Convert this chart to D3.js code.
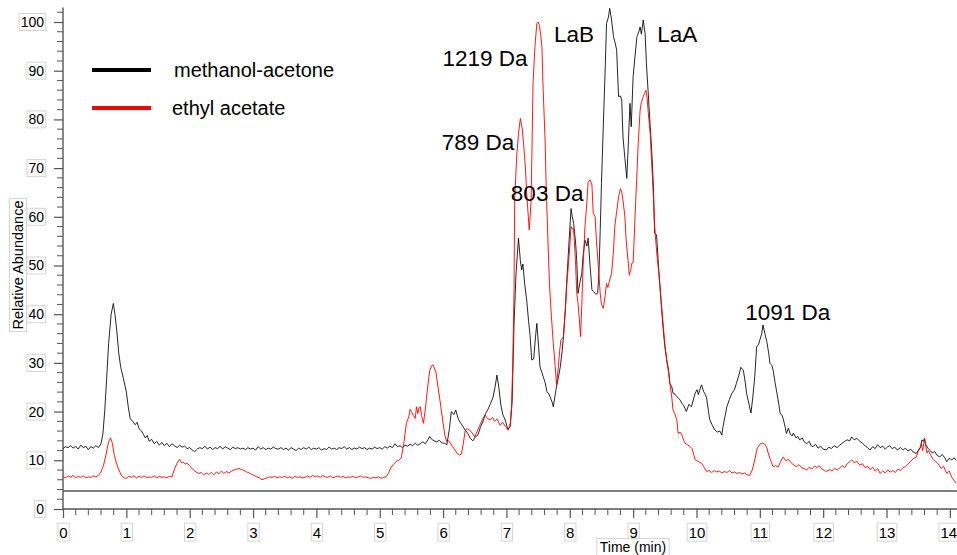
<!DOCTYPE html>
<html>
<head>
<meta charset="utf-8">
<script src="https://cdn.jsdelivr.net/npm/d3@7"></script>
<style>
  body { margin: 0; background: #fff; }
  svg { display: block; font-family: "Liberation Sans", Arial, sans-serif; }
</style>
</head>
<body>
<svg id="chart" width="957" height="555"></svg>
<script>
// ---- data (time in min, relative abundance in %) ----
const seriesNames = ["methanol-acetone", "ethyl acetate"];
const seriesColors = ["#000000", "#ff0000"];

const methanolAcetone = [[0,12.4],[0.04,12.8],[0.08,12.6],[0.12,13.0],[0.16,12.5],[0.2,12.9],[0.24,12.3],[0.28,13.1],[0.32,12.6],[0.36,12.9],[0.4,12.2],[0.44,12.8],[0.48,12.5],[0.52,13.0],[0.56,12.6],[0.6,13.4],[0.63,15.5],[0.66,20.3],[0.69,27],[0.72,34],[0.76,40],[0.795,42.2],[0.82,40],[0.85,36.5],[0.88,32],[0.91,29.2],[0.95,27],[1.0,24],[1.03,21],[1.06,18.6],[1.1,18.0],[1.14,17.3],[1.17,17.8],[1.2,16.5],[1.24,16.0],[1.27,15.3],[1.3,14.6],[1.33,15.1],[1.36,13.9],[1.4,14.3],[1.44,13.4],[1.48,13.9],[1.52,13.1],[1.56,13.7],[1.6,13.0],[1.64,13.5],[1.68,12.8],[1.72,13.4],[1.76,13.0],[1.8,12.6],[1.84,13.1],[1.88,12.7],[1.92,12.9],[1.96,12.4],[2.0,12.6],[2.04,12.1],[2.08,11.8],[2.12,12.3],[2.16,12.6],[2.2,12.4],[2.24,12.9],[2.28,12.3],[2.32,12.7],[2.36,12.2],[2.4,12.6],[2.44,12.4],[2.48,12.9],[2.52,12.3],[2.56,12.8],[2.6,12.5],[2.64,12.2],[2.68,12.7],[2.72,12.4],[2.76,12.6],[2.8,12.3],[2.84,12.5],[2.88,12.2],[2.92,12.6],[2.96,12.3],[3.0,12.5],[3.04,12.1],[3.08,12.8],[3.12,12.3],[3.16,12.6],[3.2,12.2],[3.24,12.5],[3.28,12.3],[3.32,12.7],[3.36,12.4],[3.4,12.3],[3.44,12.6],[3.48,12.2],[3.52,12.5],[3.56,12.1],[3.6,12.6],[3.64,12.3],[3.68,12.0],[3.72,12.5],[3.76,12.2],[3.8,12.6],[3.84,12.3],[3.88,12.7],[3.92,12.2],[3.96,12.5],[4.0,12.3],[4.04,12.6],[4.08,12.1],[4.12,12.4],[4.16,12.2],[4.2,12.7],[4.24,12.3],[4.28,12.5],[4.32,12.2],[4.36,12.6],[4.4,12.4],[4.44,12.8],[4.48,12.3],[4.52,12.6],[4.56,12.2],[4.6,12.5],[4.64,12.3],[4.68,12.7],[4.72,12.4],[4.76,12.6],[4.8,12.2],[4.84,12.5],[4.88,12.3],[4.92,12.7],[4.96,12.4],[5.0,12.6],[5.04,12.3],[5.08,12.8],[5.12,12.5],[5.16,12.9],[5.2,12.6],[5.24,13.4],[5.28,12.8],[5.32,13.0],[5.36,12.6],[5.4,13.1],[5.44,12.9],[5.48,13.3],[5.52,13.0],[5.56,13.5],[5.6,13.1],[5.64,13.4],[5.68,13.8],[5.72,13.4],[5.76,14.2],[5.79,14.9],[5.82,14.3],[5.86,14.0],[5.9,13.8],[5.94,14.1],[5.98,13.6],[6.02,13.5],[6.06,13.2],[6.1,16.5],[6.13,20.0],[6.17,19.4],[6.2,20.3],[6.24,18.5],[6.27,17.8],[6.31,17.0],[6.35,16.2],[6.39,15.5],[6.43,14.5],[6.47,14.0],[6.51,14.8],[6.55,15.2],[6.59,16.8],[6.63,18.0],[6.67,19.6],[6.71,20.5],[6.75,21.7],[6.79,23.0],[6.82,25.0],[6.85,27.5],[6.88,25.0],[6.91,21.5],[6.94,19.5],[6.98,18.3],[7.02,16.4],[7.06,16.9],[7.09,22],[7.12,38],[7.15,48],[7.19,55.6],[7.22,51],[7.24,49.1],[7.26,50.3],[7.29,46],[7.32,42.9],[7.35,38.5],[7.37,36.1],[7.4,30.6],[7.43,30.8],[7.46,35.5],[7.48,38.1],[7.51,33],[7.53,29.2],[7.56,28],[7.58,27.2],[7.61,26],[7.64,24.1],[7.67,23.6],[7.69,23],[7.72,22],[7.74,21],[7.77,23.5],[7.79,25.1],[7.82,27],[7.85,29.2],[7.88,32.5],[7.9,35.4],[7.93,41],[7.95,46.3],[7.98,53],[8.02,61.7],[8.04,60],[8.06,58.7],[8.09,55],[8.11,51.1],[8.13,44.3],[8.16,46.5],[8.19,48.4],[8.21,52],[8.24,55.2],[8.27,54],[8.29,55.6],[8.32,50],[8.35,45],[8.38,44.6],[8.41,44.1],[8.44,44.3],[8.46,48.4],[8.48,57],[8.5,66.8],[8.53,79],[8.56,90.8],[8.58,99.7],[8.61,101],[8.63,102.8],[8.66,100.4],[8.69,97],[8.72,95.5],[8.74,94.2],[8.77,84.7],[8.8,84.8],[8.82,84],[8.84,76.4],[8.87,72],[8.9,67.9],[8.92,73.7],[8.95,83.3],[8.97,78.5],[9.0,88.8],[9.03,93],[9.06,97],[9.09,98],[9.11,99],[9.13,97.5],[9.16,100.4],[9.19,97.5],[9.21,91.5],[9.24,85],[9.27,78.5],[9.3,72],[9.32,66.2],[9.34,56.6],[9.37,56.3],[9.4,50],[9.42,46.3],[9.45,41],[9.48,36.1],[9.5,33.5],[9.53,30.6],[9.56,28.5],[9.58,25.8],[9.61,25.1],[9.63,23.8],[9.66,23.6],[9.69,23.1],[9.72,22.7],[9.74,22.4],[9.77,21.7],[9.8,21.2],[9.84,20.0],[9.88,21.5],[9.92,21.0],[9.95,22.4],[9.98,23.8],[10.01,24.5],[10.03,23.5],[10.06,24.8],[10.08,25.5],[10.11,24.2],[10.14,23.5],[10.16,22.8],[10.19,20],[10.21,18.3],[10.25,17.2],[10.29,16.2],[10.33,15.8],[10.37,16.0],[10.4,15.2],[10.42,17.0],[10.45,19],[10.48,21],[10.52,22.5],[10.56,23.8],[10.6,24.5],[10.63,25.8],[10.67,27.5],[10.7,29.1],[10.74,28.5],[10.77,26],[10.79,23.8],[10.83,21.5],[10.86,19.7],[10.89,23],[10.92,27.2],[10.95,33.3],[10.98,33.8],[11.0,34.7],[11.03,36],[11.05,37.8],[11.08,36],[11.11,34.4],[11.14,32],[11.16,29.9],[11.19,29.5],[11.21,28.5],[11.24,26],[11.27,23.8],[11.3,21.5],[11.32,19.7],[11.35,19.2],[11.37,18.5],[11.4,16.8],[11.42,15.5],[11.45,16.6],[11.48,15.4],[11.51,15.0],[11.53,15.6],[11.57,14.6],[11.6,14.9],[11.63,14.2],[11.67,14.6],[11.7,13.8],[11.74,13.4],[11.78,13.9],[11.81,13.0],[11.84,12.8],[11.88,13.3],[11.92,12.5],[11.96,12.9],[12.0,12.3],[12.05,12.1],[12.09,12.7],[12.13,12.4],[12.17,13.0],[12.22,12.6],[12.26,13.1],[12.3,13.5],[12.34,13.9],[12.38,14.2],[12.42,14.0],[12.45,14.8],[12.49,14.2],[12.53,14.5],[12.58,13.9],[12.62,13.5],[12.66,13.0],[12.7,12.6],[12.74,12.1],[12.78,12.8],[12.82,12.4],[12.86,13.2],[12.9,12.6],[12.94,12.9],[12.98,12.3],[13.02,12.8],[13.05,13.0],[13.09,12.4],[13.13,12.7],[13.17,12.1],[13.22,12.6],[13.26,12.1],[13.3,12.5],[13.34,11.9],[13.38,12.3],[13.42,11.7],[13.47,11.4],[13.5,12.0],[13.54,12.8],[13.56,14.2],[13.58,13.9],[13.6,14.5],[13.62,13.2],[13.66,12.4],[13.69,12.0],[13.72,11.5],[13.76,11.8],[13.8,11.0],[13.84,10.7],[13.88,11.2],[13.92,10.5],[13.95,9.7],[13.99,10.4],[14.03,10.1],[14.07,10.5],[14.1,10.0]];

const ethylAcetate = [[0,6.6],[0.04,6.4],[0.08,6.8],[0.12,6.5],[0.16,6.9],[0.2,6.4],[0.24,6.7],[0.28,6.5],[0.32,6.8],[0.36,6.4],[0.4,6.6],[0.44,6.5],[0.48,6.8],[0.52,6.6],[0.56,6.9],[0.6,7.6],[0.64,9.0],[0.68,11.2],[0.72,13.8],[0.75,14.6],[0.78,13.5],[0.81,11.0],[0.84,9.6],[0.87,8.4],[0.9,7.5],[0.93,6.7],[0.97,6.4],[1.0,6.3],[1.04,6.7],[1.08,6.5],[1.12,6.8],[1.16,6.4],[1.2,6.7],[1.24,6.5],[1.28,6.8],[1.32,6.4],[1.36,6.6],[1.4,6.5],[1.44,6.8],[1.48,6.4],[1.52,6.7],[1.56,6.5],[1.6,6.6],[1.64,6.4],[1.68,6.7],[1.72,6.6],[1.76,8.2],[1.8,9.4],[1.84,10.2],[1.87,9.5],[1.9,9.6],[1.93,9.2],[1.96,9.4],[2.0,8.9],[2.03,8.4],[2.06,8.0],[2.1,7.6],[2.14,7.3],[2.18,7.5],[2.22,7.0],[2.26,7.4],[2.3,7.1],[2.34,7.5],[2.38,7.0],[2.42,7.6],[2.46,7.2],[2.5,7.8],[2.54,7.3],[2.58,7.7],[2.62,7.4],[2.66,7.8],[2.7,8.0],[2.74,8.2],[2.78,8.3],[2.82,8.1],[2.86,7.9],[2.9,7.6],[2.94,7.4],[2.98,7.1],[3.02,6.9],[3.06,6.6],[3.1,6.4],[3.14,6.0],[3.18,6.2],[3.22,6.4],[3.26,6.6],[3.3,6.5],[3.34,6.7],[3.38,6.4],[3.42,6.6],[3.46,6.5],[3.5,6.7],[3.54,6.4],[3.58,6.6],[3.62,6.3],[3.66,6.7],[3.7,6.5],[3.74,6.6],[3.78,6.4],[3.82,6.5],[3.86,6.8],[3.9,6.5],[3.94,6.9],[3.98,6.6],[4.02,6.8],[4.06,6.5],[4.1,6.9],[4.14,6.6],[4.18,6.5],[4.22,6.8],[4.26,6.4],[4.3,6.6],[4.34,6.8],[4.38,6.5],[4.42,6.7],[4.46,6.4],[4.5,6.6],[4.54,6.5],[4.58,6.7],[4.62,6.4],[4.66,6.6],[4.7,6.8],[4.74,6.5],[4.78,6.6],[4.82,6.4],[4.86,6.3],[4.9,6.5],[4.94,6.4],[4.98,6.6],[5.02,6.3],[5.06,6.5],[5.1,6.6],[5.14,7.4],[5.18,8.6],[5.22,9.2],[5.26,9.8],[5.3,10.0],[5.34,10.5],[5.38,13.5],[5.42,17.6],[5.46,19.0],[5.48,20.5],[5.5,20.0],[5.53,19.2],[5.56,18.6],[5.58,21.0],[5.6,19.6],[5.62,20.8],[5.64,21.0],[5.66,19.2],[5.69,17.6],[5.72,20.5],[5.74,23.1],[5.77,26.5],[5.79,28.5],[5.82,29.4],[5.84,29.6],[5.86,29.0],[5.89,27.9],[5.92,25.0],[5.95,22.4],[5.98,19.5],[6.0,17.6],[6.03,15.0],[6.06,13.8],[6.09,14.0],[6.11,13.6],[6.15,12.8],[6.19,12.1],[6.22,11.4],[6.26,11.1],[6.29,11.3],[6.32,13.5],[6.35,16.2],[6.38,16.5],[6.42,16.2],[6.46,15.6],[6.5,14.8],[6.54,16.0],[6.58,17.2],[6.62,18.3],[6.66,19.3],[6.7,18.6],[6.74,18.3],[6.78,18.8],[6.81,18.0],[6.85,18.5],[6.9,17.2],[6.94,17.8],[6.98,17.0],[7.03,16.2],[7.06,17.5],[7.08,21.0],[7.1,30],[7.12,45],[7.13,63.4],[7.16,72],[7.19,77.1],[7.22,80.2],[7.25,78],[7.27,75.1],[7.3,70],[7.32,64.8],[7.34,61],[7.36,57.3],[7.39,63.4],[7.42,87.4],[7.45,95],[7.48,99.7],[7.5,100],[7.52,99.3],[7.54,97.5],[7.56,94.9],[7.58,86],[7.61,75.8],[7.63,65],[7.66,53.2],[7.68,46],[7.71,39.5],[7.74,34],[7.77,29.2],[7.79,25.5],[7.82,29.2],[7.84,32.5],[7.86,34.7],[7.88,35.0],[7.9,35.4],[7.93,41],[7.95,45.6],[7.99,52],[8.02,58],[8.04,57.5],[8.06,57.6],[8.09,51],[8.11,44.3],[8.13,42.3],[8.15,39],[8.17,35.4],[8.19,42],[8.21,49.8],[8.24,58],[8.27,63],[8.29,67.2],[8.32,67.6],[8.35,66.5],[8.37,60.7],[8.4,60],[8.42,55.2],[8.45,50],[8.48,44.3],[8.5,42],[8.53,41.2],[8.56,44],[8.58,46.3],[8.6,45.5],[8.63,47],[8.66,48.4],[8.69,53],[8.71,58],[8.74,61],[8.77,64.1],[8.8,65.8],[8.82,65],[8.84,63.4],[8.87,60],[8.89,55.2],[8.92,51],[8.94,48],[8.96,49],[8.98,50.5],[9.0,50.6],[9.03,60],[9.06,68.9],[9.08,75],[9.11,81.9],[9.13,83.5],[9.16,84.7],[9.18,85.3],[9.2,86],[9.22,84.5],[9.24,81.2],[9.27,77],[9.29,71.7],[9.32,64],[9.34,58],[9.37,53],[9.4,49],[9.42,46.3],[9.45,41.5],[9.48,37],[9.5,34],[9.53,30.6],[9.56,28],[9.58,25.8],[9.61,23],[9.63,20.3],[9.66,19.5],[9.69,18.3],[9.71,15.5],[9.74,15.8],[9.77,15.2],[9.8,14.0],[9.82,13.5],[9.86,13.2],[9.9,12.8],[9.93,12.4],[9.96,11.0],[9.98,10.1],[10.02,9.8],[10.05,9.6],[10.08,9.4],[10.12,8.6],[10.16,7.7],[10.2,7.9],[10.24,7.5],[10.28,7.9],[10.32,7.6],[10.36,7.8],[10.4,7.4],[10.44,7.7],[10.48,7.5],[10.52,7.9],[10.56,7.4],[10.6,7.6],[10.64,7.3],[10.68,7.5],[10.72,7.2],[10.76,7.4],[10.8,7.0],[10.84,6.9],[10.88,8.0],[10.92,10.1],[10.96,12.5],[11.0,13.3],[11.04,13.5],[11.08,13.3],[11.11,12.6],[11.13,11.6],[11.17,10.0],[11.21,8.7],[11.25,8.9],[11.29,8.6],[11.33,9.8],[11.37,10.7],[11.41,9.9],[11.45,10.2],[11.5,9.4],[11.54,9.0],[11.58,8.7],[11.62,9.1],[11.66,8.5],[11.7,8.3],[11.74,8.0],[11.78,8.6],[11.82,8.2],[11.86,8.8],[11.9,8.5],[11.94,8.9],[11.98,8.2],[12.02,7.9],[12.05,7.7],[12.1,8.1],[12.14,7.8],[12.18,8.4],[12.22,8.0],[12.26,8.4],[12.3,8.9],[12.34,8.5],[12.38,9.3],[12.42,9.7],[12.45,10.1],[12.49,9.5],[12.53,9.8],[12.58,9.0],[12.62,9.3],[12.66,8.5],[12.7,8.8],[12.74,8.1],[12.78,8.6],[12.82,7.8],[12.86,8.3],[12.9,7.3],[12.94,7.8],[12.98,7.4],[13.02,8.0],[13.06,7.6],[13.1,7.9],[13.14,7.5],[13.18,8.2],[13.22,7.9],[13.26,8.5],[13.3,8.7],[13.34,9.2],[13.38,9.8],[13.42,10.3],[13.47,10.7],[13.5,11.8],[13.53,12.5],[13.55,13.5],[13.57,12.0],[13.6,14.5],[13.62,12.8],[13.64,11.5],[13.66,12.0],[13.7,11.0],[13.74,10.1],[13.78,9.7],[13.82,9.2],[13.86,8.3],[13.9,8.8],[13.95,7.3],[13.99,7.8],[14.03,6.5],[14.07,5.8],[14.1,5.3]];

const xTickValues = [0,1,2,3,4,5,6,7,8,9,10,11,12,13,14];
const yTickValues = [0,10,20,30,40,50,60,70,80,90,100];
const referenceLevel = 3.7; // horizontal reference line

const peakLabels = [
  {text: "1219 Da", t: 5.99, v: 91.0},
  {text: "LaB",     t: 7.75, v: 95.9},
  {text: "LaA",     t: 9.38, v: 95.9},
  {text: "789 Da",  t: 5.98, v: 73.7},
  {text: "803 Da",  t: 7.07, v: 63.2},
  {text: "1091 Da", t: 10.77, v: 38.8}
];

// ---- layout ----
const svg = d3.select("#chart");
const x = d3.scaleLinear().domain([0, 14.1]).range([63, 956.2]);
const y = d3.scaleLinear().domain([0, 103]).range([509, 7.4]);
const axisColor = "#555";

// axes lines
svg.append("line").attr("x1", x(0)).attr("x2", 957).attr("y1", y(0)).attr("y2", y(0))
  .attr("stroke", axisColor).attr("stroke-width", 1.4);
svg.append("line").attr("x1", x(0)).attr("x2", x(0)).attr("y1", y(0)).attr("y2", y(103))
  .attr("stroke", axisColor).attr("stroke-width", 1.4);

// reference line
svg.append("line").attr("x1", x(0)).attr("x2", 957).attr("y1", y(referenceLevel)).attr("y2", y(referenceLevel))
  .attr("stroke", "#555").attr("stroke-width", 1.3);

// minor ticks
const yMinor = d3.range(0, 103, 2).filter(v => v % 10 !== 0);
svg.append("g").selectAll("line").data(yMinor).join("line")
  .attr("x1", x(0) - 6).attr("x2", x(0)).attr("y1", d => y(d)).attr("y2", d => y(d))
  .attr("stroke", axisColor).attr("stroke-width", 1);
const xMinor = d3.range(0, 14.11, 0.2).map(v => +v.toFixed(1)).filter(v => Math.abs(v - Math.round(v)) > 0.01);
svg.append("g").selectAll("line").data(xMinor).join("line")
  .attr("x1", d => x(d)).attr("x2", d => x(d)).attr("y1", y(0)).attr("y2", y(0) + 6)
  .attr("stroke", axisColor).attr("stroke-width", 1);

// major ticks via d3 axes
const yAxis = svg.append("g").attr("transform", `translate(${x(0)},0)`)
  .call(d3.axisLeft(y).tickValues(yTickValues).tickSize(9).tickPadding(10).tickFormat(d3.format("d")));
yAxis.select(".domain").remove();
yAxis.selectAll(".tick line").attr("stroke", axisColor).attr("stroke-width", 1.2);
yAxis.selectAll(".tick text").attr("font-size", 14).attr("fill", "#000")
  .attr("font-family", "Liberation Sans, Arial, sans-serif");

const xAxis = svg.append("g").attr("transform", `translate(0,${y(0)})`)
  .call(d3.axisBottom(x).tickValues(xTickValues).tickSize(9).tickPadding(9).tickFormat(d3.format("d")));
xAxis.select(".domain").remove();
xAxis.selectAll(".tick line").attr("stroke", axisColor).attr("stroke-width", 1.2);
xAxis.selectAll(".tick text").attr("font-size", 15).attr("fill", "#000")
  .attr("font-family", "Liberation Sans, Arial, sans-serif");
// last label sits against the right edge, as in the reference
xAxis.selectAll(".tick text").filter(d => d === 14).attr("text-anchor", "end").attr("dx", "0.45em");

// boxes around tick labels (instrument style)
function boxText(sel, pad) {
  sel.each(function() {
    const b = this.getBBox();
    d3.select(this.parentNode).insert("rect", "text")
      .attr("x", b.x - pad).attr("y", b.y - 0.5).attr("width", b.width + 2 * pad).attr("height", b.height + 1)
      .attr("fill", "#fff").attr("stroke", "#d4d4d4").attr("stroke-width", 1);
  });
}
boxText(yAxis.selectAll(".tick text"), 1.5);
boxText(xAxis.selectAll(".tick text"), 1.5);

// axis titles
const yt = svg.append("g").attr("transform", "translate(23,265) rotate(-90)");
const ytText = yt.append("text").attr("text-anchor", "middle").attr("font-size", 14.5).text("Relative Abundance");
const yb = ytText.node().getBBox();
yt.insert("rect", "text").attr("x", yb.x - 2).attr("y", yb.y - 0.5).attr("width", yb.width + 4).attr("height", yb.height + 1)
  .attr("fill", "#fff").attr("stroke", "#d4d4d4");

const xt = svg.append("g").attr("transform", "translate(633,552)");
const xtText = xt.append("text").attr("text-anchor", "middle").attr("font-size", 14).text("Time (min)");
const xb = xtText.node().getBBox();
xt.insert("rect", "text").attr("x", xb.x - 3).attr("y", xb.y - 0.5).attr("width", xb.width + 6).attr("height", xb.height + 1)
  .attr("fill", "#fff").attr("stroke", "#d4d4d4");

// traces
const line = d3.line().x(d => x(d[0])).y(d => y(d[1]));
const allSeries = [methanolAcetone, ethylAcetate];
svg.append("g").selectAll("path").data(allSeries).join("path")
  .attr("d", line)
  .attr("fill", "none")
  .attr("stroke", (d, i) => seriesColors[i])
  .attr("stroke-width", 1)
  .attr("stroke-opacity", (d, i) => i === 0 ? 0.85 : 0.9)
  .attr("stroke-linejoin", "round");

// legend
const legend = svg.append("g");
seriesNames.forEach((name, i) => {
  const ly = 70 + i * 38;
  legend.append("line").attr("x1", 92).attr("x2", 151).attr("y1", ly).attr("y2", ly)
    .attr("stroke", seriesColors[i]).attr("stroke-width", 4);
  legend.append("text").attr("x", i === 0 ? 174 : 172).attr("y", ly + 7)
    .attr("font-size", 20).attr("fill", "#000").text(name);
});

// peak annotations
svg.append("g").selectAll("text").data(peakLabels).join("text")
  .attr("x", d => x(d.t)).attr("y", d => y(d.v))
  .attr("font-size", 22.5).attr("fill", "#000")
  .text(d => d.text);
</script>
</body>
</html>
